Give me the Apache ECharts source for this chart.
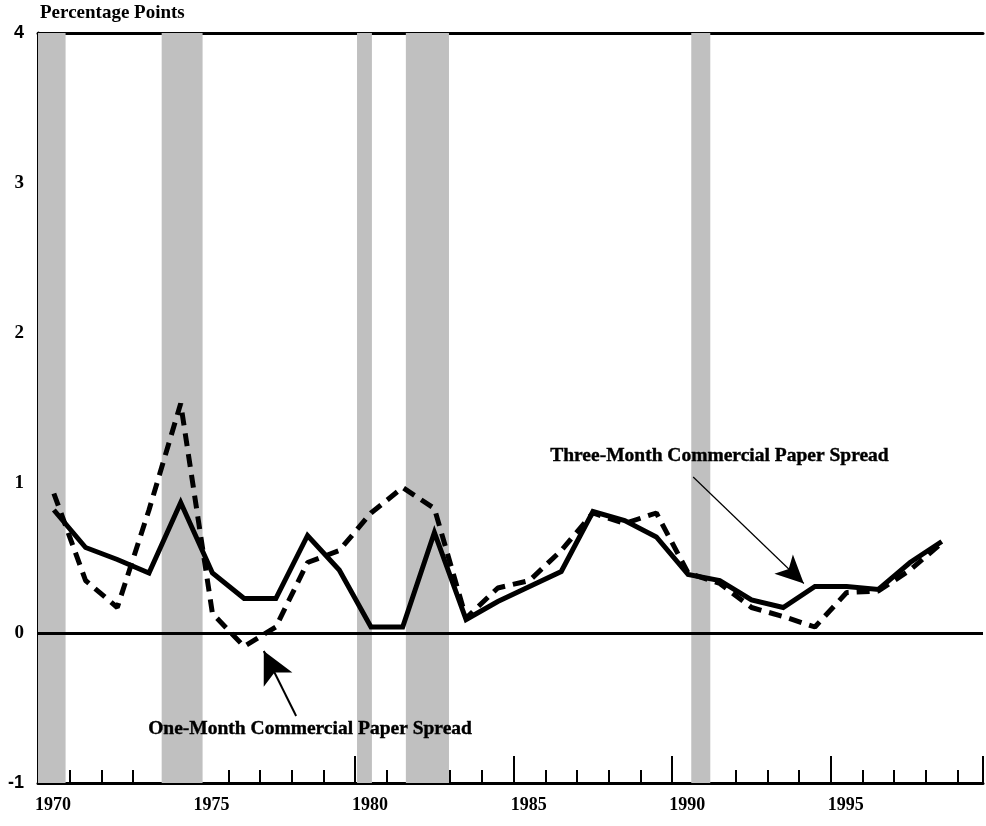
<!DOCTYPE html>
<html><head><meta charset="utf-8">
<script src="https://cdn.jsdelivr.net/npm/echarts@6/dist/echarts.min.js"></script>
<style>html,body{margin:0;padding:0;background:#fff}#c{width:986px;height:826px}</style>
</head><body><div id="c"></div>
<script>
const years = [1970,1971,1972,1973,1974,1975,1976,1977,1978,1979,1980,1981,1982,1983,1984,1985,1986,1987,1988,1989,1990,1991,1992,1993,1994,1995,1996,1997,1998];
const threeMonth = [0.82,0.57,0.49,0.40,0.87,0.40,0.23,0.23,0.65,0.42,0.04,0.04,0.67,0.09,0.21,0.31,0.41,0.81,0.75,0.64,0.39,0.35,0.22,0.17,0.31,0.31,0.29,0.47,0.61];
const oneMonth   = [0.93,0.35,0.17,0.82,1.53,0.13,-0.09,0.04,0.47,0.55,0.80,0.97,0.83,0.10,0.30,0.35,0.55,0.80,0.73,0.80,0.40,0.33,0.17,0.11,0.04,0.27,0.28,0.42,0.60];
const recessions = [[1970.0,1970.87],[1973.9,1975.19],[1980.06,1980.53],[1981.6,1982.96],[1990.6,1991.2]];
const yTicks = [-1,0,1,2,3,4];
const xLabelYears = [1970,1975,1980,1985,1990,1995];
const threeArrow = [[1990.66,1.04],[1994.15,0.33]];
const oneArrow = [[1978.14,-0.553],[1977.12,-0.12]];

const serif = '"Liberation Serif","Times New Roman",serif';
const sans = '"Liberation Sans",Arial,sans-serif';
const toXY = arr => arr.map((v,i)=>[years[i]+0.5, v]);

const chart = echarts.init(document.getElementById('c'), null, {renderer:'canvas'});
const grid = {left:38, top:33, right:1, bottom:43};
const xBase = {type:'value', min:1970, max:1999.8, gridIndex:0, splitLine:{show:false}};
const yBase = {type:'value', min:-1, max:4, gridIndex:0, splitLine:{show:false}};
chart.setOption({
  backgroundColor:'#fff',
  animation:false,
  grid:[grid],
  xAxis:[
    Object.assign({}, xBase, {position:'bottom', interval:1,
      axisLine:{show:true, onZero:false, lineStyle:{color:'#000', width:3}},
      axisTick:{show:true, inside:true, length:13, lineStyle:{color:'#000', width:2}},
      axisLabel:{show:false}}),
    Object.assign({}, xBase, {position:'bottom', interval:5,
      axisLine:{show:false, onZero:false},
      axisTick:{show:true, inside:true, length:27, lineStyle:{color:'#000', width:2}},
      axisLabel:{show:true, align:'left', margin:13, padding:[0,0,0,-3],
        color:'#000', fontFamily:serif, fontWeight:'bold', fontSize:18,
        formatter: v => xLabelYears.includes(v) ? String(v) : ''}}),
    Object.assign({}, xBase, {position:'top',
      axisLine:{show:true, onZero:false, lineStyle:{color:'#000', width:3}},
      axisTick:{show:false}, axisLabel:{show:false}})
  ],
  yAxis:[
    Object.assign({}, yBase, {interval:0.5,
      axisLine:{show:true, onZero:false, lineStyle:{color:'#000', width:3}},
      axisTick:{show:true, inside:true, length:13, lineStyle:{color:'#000', width:2}},
      axisLabel:{show:false}}),
    Object.assign({}, yBase, {interval:1, position:'left',
      axisLine:{show:false, onZero:false},
      axisTick:{show:true, inside:true, length:27, lineStyle:{color:'#000', width:2}},
      axisLabel:{show:true, margin:14, color:'#000', fontWeight:'bold', fontSize:18,
        formatter: v => yTicks.includes(v) ? ((v===4||v===-1) ? '{s|'+v+'}' : '{r|'+v+'}') : '',
        rich:{s:{fontFamily:sans, fontWeight:'bold', fontSize:18, color:'#000'},
              r:{fontFamily:serif, fontWeight:'bold', fontSize:19, color:'#000'}}}})
  ],
  series:[
    {type:'line', name:'bands', data:[], z:0, silent:true,
      markArea:{silent:true, itemStyle:{color:'#c0c0c0', opacity:1},
        data: recessions.map(r=>[{xAxis:r[0]},{xAxis:r[1]}])},
      markLine:{silent:true, symbol:['none','none'], label:{show:false},
        lineStyle:{color:'#000', width:3, type:'solid'}, data:[{yAxis:0}]}},
    {type:'line', name:'Three-Month Commercial Paper Spread', data:toXY(threeMonth), z:3,
      showSymbol:false, symbol:'none', lineStyle:{color:'#000', width:5, join:'miter'}},
    {type:'line', name:'One-Month Commercial Paper Spread', data:toXY(oneMonth), z:3,
      showSymbol:false, symbol:'none', lineStyle:{color:'#000', width:5, type:[13,8], cap:'butt'}},
    {type:'line', name:'arrows', data:[], z:4, silent:true,
      markLine:{silent:true, label:{show:false}, animation:false,
        data:[
          [{coord:threeArrow[0], symbol:'none', lineStyle:{color:'#000', width:1.2, type:'solid'}},
           {coord:threeArrow[1], symbol:'arrow', symbolSize:[20,28]}],
          [{coord:oneArrow[0], symbol:'none', lineStyle:{color:'#000', width:2, type:'solid'}},
           {coord:oneArrow[1], symbol:'arrow', symbolSize:[24,32]}]
        ]}}
  ],
  graphic:[
    {type:'text', z:100, left:40, top:4, style:{text:'Percentage Points', font:'bold 19px '+serif, fill:'#000'}},
    {type:'text', z:100, left:550, top:446, style:{text:'Three-Month Commercial Paper Spread', font:'bold 19.5px '+serif, fill:'#000', stroke:'#000', lineWidth:0.4}},
    {type:'text', z:100, left:148, top:719, style:{text:'One-Month Commercial Paper Spread', font:'bold 19.5px '+serif, fill:'#000', stroke:'#000', lineWidth:0.4}}
  ]
});
</script></body></html>
